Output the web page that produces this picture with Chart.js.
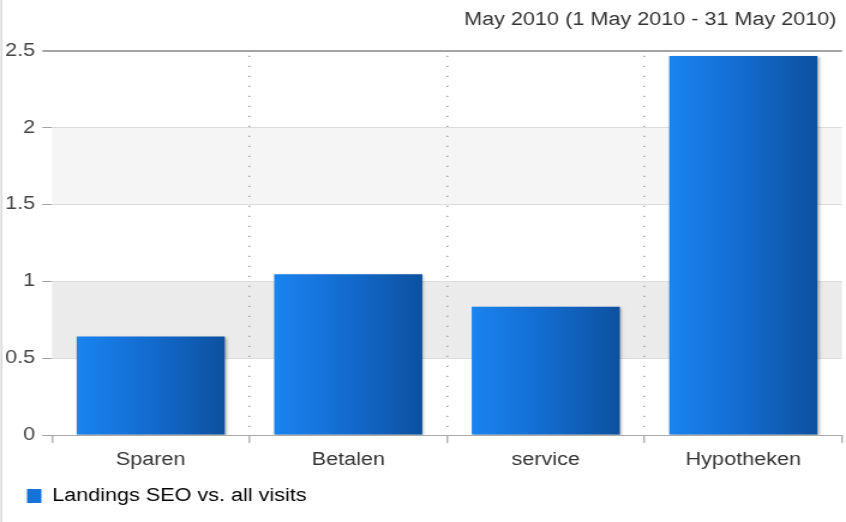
<!DOCTYPE html>
<html>
<head>
<meta charset="utf-8">
<script src="https://cdn.jsdelivr.net/npm/chart.js@4.4.1/dist/chart.umd.min.js"></script>
<style>
  html, body { margin: 0; padding: 0; background: #fff; overflow: hidden; }
</style>
</head>
<body>
<canvas id="c" width="705" height="522" style="display:block;width:846px;height:522px;"></canvas>
<script>
// ---- data ----
const categories = ['Sparen', 'Betalen', 'service', 'Hypotheken'];
const seriesValues = [0.64, 1.045, 0.835, 2.465];
const seriesLabel = 'Landings SEO vs. all visits';
const yTicks = [0, 0.5, 1, 1.5, 2, 2.5];
const titleText = 'May 2010 (1 May 2010 - 31 May 2010)';

// ---- styling ----
const FONT = '"Liberation Sans", Arial, Helvetica, sans-serif';
const BAR_PCT = 0.75;
const bandColors = [null, '#ebebeb', null, '#f5f5f5', null]; // bands between consecutive y ticks

Chart.defaults.font.family = FONT;
Chart.defaults.font.size = 18;
Chart.defaults.color = '#333';

function barGradient(ctx) {
  const chart = ctx.chart;
  const area = chart.chartArea;
  if (!area || !chart.scales.x) return '#1570d8';
  const xs = chart.scales.x;
  const cx = xs.getPixelForValue(ctx.dataIndex);
  const w = (area.right - area.left) / categories.length * BAR_PCT;
  const g = chart.ctx.createLinearGradient(cx - w / 2, 0, cx + w / 2, 0);
  g.addColorStop(0, '#1a84f0');
  g.addColorStop(0.5, '#136bce');
  g.addColorStop(1, '#0d519f');
  return g;
}

const decoPlugin = {
  id: 'deco',
  afterLayout(chart) {
    if (chart.legend) { chart.legend.left += 12.5; }
  },
  beforeDraw(chart) {
    const { ctx, chartArea } = chart;
    const ys = chart.scales.y;
    ctx.save();
    for (let i = 0; i < yTicks.length - 1; i++) {
      const col = bandColors[i];
      if (!col) continue;
      const top = ys.getPixelForValue(yTicks[i + 1]);
      const bot = ys.getPixelForValue(yTicks[i]);
      ctx.fillStyle = col;
      ctx.fillRect(chartArea.left, top, chartArea.right - chartArea.left, bot - top);
    }
    // left page edge line
    ctx.strokeStyle = '#d4d4d4';
    ctx.lineWidth = 1.4;
    ctx.beginPath();
    ctx.moveTo(1.2, 0);
    ctx.lineTo(1.2, chart.height);
    ctx.stroke();
    ctx.restore();
  },
  beforeDatasetDraw(chart) {
    const ctx = chart.ctx;
    ctx.save();
    ctx.shadowColor = 'rgba(0,0,0,0.28)';
    ctx.shadowOffsetX = 1.5;
    ctx.shadowOffsetY = 1;
    ctx.shadowBlur = 2.5;
  },
  afterDatasetDraw(chart) {
    chart.ctx.restore();
  },
  afterDraw(chart) {
    const ctx = chart.ctx;
    ctx.save();
    ctx.font = '18px ' + FONT;
    ctx.fillStyle = '#333';
    ctx.textAlign = 'right';
    ctx.textBaseline = 'alphabetic';
    ctx.fillText(titleText, 697, 24.5);
    ctx.restore();
  }
};

new Chart(document.getElementById('c'), {
  type: 'bar',
  data: {
    labels: categories,
    datasets: [{
      label: seriesLabel,
      data: seriesValues,
      backgroundColor: barGradient,
      borderWidth: 0,
      categoryPercentage: 1,
      barPercentage: BAR_PCT
    }]
  },
  options: {
    responsive: false,
    animation: false,
    devicePixelRatio: 1,
    layout: { padding: { top: 50.7, right: 3.3, bottom: 7, left: 0 } },
    plugins: {
      title: { display: false },
      tooltip: { enabled: false },
      legend: {
        display: true,
        position: 'bottom',
        align: 'start',
        labels: {
          boxWidth: 12,
          boxHeight: 14,
          padding: 10,
          color: '#333',
          font: { size: 18 },
          generateLabels(chart) {
            return [{
              text: seriesLabel,
              fillStyle: '#1572da',
              strokeStyle: 'rgba(0,0,0,0)',
              lineWidth: 0,
              hidden: false,
              datasetIndex: 0
            }];
          }
        }
      }
    },
    scales: {
      x: {
        offset: true,
        afterFit(scale) {
          const lh = scale.chart.legend ? scale.chart.legend.height : 38;
          scale.height = 522 - 7 - lh - 435;
        },
        grid: {
          offset: true,
          drawOnChartArea: true,
          color: (c) => (c.type !== 'tick' || c.index === 0) ? 'rgba(0,0,0,0)' : '#a8a8a8',
          lineWidth: 1.6,
          tickColor: '#a0a0a0',
          tickLength: 8,
          tickWidth: 1.2
        },
        border: { display: true, color: '#a8a8a8', width: 1, dash: [1.2, 8.8], dashOffset: 5 },
        ticks: { color: '#333', padding: 6, font: { size: 18 } }
      },
      y: {
        min: 0,
        max: 2.5,
        afterFit(scale) { scale.width = 43.3; },
        afterBuildTicks(scale) { scale.ticks = yTicks.map(v => ({ value: v })); },
        grid: {
          color: (c) => {
            const v = c.tick ? c.tick.value : null;
            if (v === 2.5) return '#a4a4a4';
            if (v === 0) return '#a8a8a8';
            return '#dcdcdc';
          },
          lineWidth: (c) => (c.tick && c.tick.value === 2.5) ? 2 : 1,
          tickColor: (c) => (c.tick && c.tick.value === 2.5) ? '#a4a4a4' : '#a0a0a0',
          tickLength: 8,
          drawTicks: true
        },
        border: { display: false },
        ticks: { color: '#444', padding: 6, font: { size: 18 }, callback: (v) => String(v) }
      }
    }
  },
  plugins: [decoPlugin]
});
</script>
</body>
</html>
